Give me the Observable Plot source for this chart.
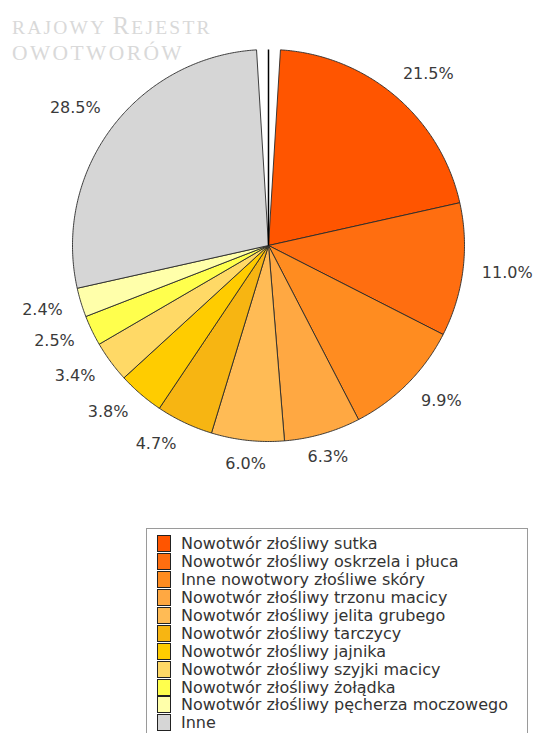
<!DOCTYPE html>
<html>
<head>
<meta charset="utf-8">
<script src="https://cdn.jsdelivr.net/npm/d3@7"></script>
<script src="https://cdn.jsdelivr.net/npm/@observablehq/plot@0.6"></script>
<style>
  html, body { margin: 0; padding: 0; background: #fff; overflow: hidden; }
  #wrap { position: relative; width: 534px; height: 733px; }
  #chart { position: absolute; left: 0; top: 0; }
  .wm { position: absolute; left: 12px; font-family: "Liberation Serif", "DejaVu Serif", serif; color: #d9d9d9; letter-spacing: 2.2px; white-space: nowrap; line-height: 1; }
  .wm .s { font-size: 19.5px; }
  .wm .b { font-size: 24.5px; }
  #legend { position: absolute; left: 146px; top: 528px; width: 382px; height: 230px; border: 1.5px solid #9a9a9a; box-sizing: border-box; padding: 6px 0 0 10px; }
  .item { display: flex; align-items: center; height: 17.9px; font-family: "DejaVu Sans", sans-serif; font-size: 16px; color: #333; white-space: nowrap; }
  .sw { width: 12px; height: 15px; border: 1px solid #222; margin-right: 10px; flex: none; }
</style>
</head>
<body>
<div id="wrap">
  <div class="wm" style="top:14px"><span class="s">RAJOWY </span><span class="b">R</span><span class="s">EJESTR</span></div>
  <div class="wm" style="top:43px"><span class="s" style="font-size:21.5px; letter-spacing:2.4px">OWOTWORÓW</span></div>
  <div id="chart"></div>
  <div id="legend"></div>
</div>
<script>
const categories = [
  "Nowotwór złośliwy sutka",
  "Nowotwór złośliwy oskrzela i płuca",
  "Inne nowotwory złośliwe skóry",
  "Nowotwór złośliwy trzonu macicy",
  "Nowotwór złośliwy jelita grubego",
  "Nowotwór złośliwy tarczycy",
  "Nowotwór złośliwy jajnika",
  "Nowotwór złośliwy szyjki macicy",
  "Nowotwór złośliwy żołądka",
  "Nowotwór złośliwy pęcherza moczowego",
  "Inne"
];
const values = [21.5, 11.0, 9.9, 6.3, 6.0, 4.7, 3.8, 3.4, 2.5, 2.4, 28.5];
const colors = [
  "#ff5500", "#ff6e10", "#ff8c20", "#ffa842", "#ffbb55",
  "#f7b512", "#ffcc00", "#ffd966", "#ffff4d", "#ffffaa", "#d6d6d6"
];

// layout / style constants
const W = 534, H = 500;
const CX = 268, CY = 245, R = 196;
const LRX = 215, LRY = 220;
const gapDeg = 3.5;

const total = d3.sum(values);
function cum0(i) { return d3.sum(values.slice(0, i)); }
let cum = 0;
const slices = values.map((v, i) => {
  const a0 = cum / total * 360;
  cum += v;
  const a1 = cum / total * 360;
  return {i, name: categories[i], value: v, color: colors[i], a0, a1};
});
slices[0].a0 += gapDeg;
slices[slices.length - 1].a1 -= gapDeg;

const rad = d => d * Math.PI / 180;
const pts = [];
for (const s of slices) {
  pts.push({k: s.name, c: s.color, x: 0, y: 0});
  const n = Math.max(2, Math.ceil((s.a1 - s.a0) / 0.5));
  for (let j = 0; j <= n; j++) {
    const a = rad(s.a0 + (s.a1 - s.a0) * j / n);
    pts.push({k: s.name, c: s.color, x: R * Math.sin(a), y: -R * Math.cos(a)});
  }
  pts.push({k: s.name, c: s.color, x: 0, y: 0});
}

const labels = slices.map(s => {
  const mid = rad((cum0(s.i) + values[s.i] / 2) / total * 360);
  const sn = Math.sin(mid);
  return {
    text: values[s.i].toFixed(1) + "%",
    x: LRX * sn, y: -LRY * Math.cos(mid),
    anchor: sn > 0.35 ? "start" : sn < -0.35 ? "end" : "middle"
  };
});

const textOpts = {x: "x", y: "y", text: "text", fontSize: 16, fill: "#3a3a3a", fontFamily: "DejaVu Sans, sans-serif"};

const chart = Plot.plot({
  width: W, height: H,
  margin: 0,
  x: {domain: [-CX, W - CX], range: [0, W], axis: null},
  y: {domain: [-CY, H - CY], range: [0, H], axis: null},
  color: {type: "identity"},
  marks: [
    Plot.line(pts, {x: "x", y: "y", z: "k", fill: "c", stroke: "#2a2a2a", strokeWidth: 0.9, strokeLinejoin: "round"}),
    Plot.link([{x1: 0, y1: 0, x2: 0, y2: -R}], {x1: "x1", y1: "y1", x2: "x2", y2: "y2", stroke: "#000", strokeWidth: 1.5}),
    Plot.text(labels.filter(d => d.anchor === "start"), {...textOpts, textAnchor: "start"}),
    Plot.text(labels.filter(d => d.anchor === "end"), {...textOpts, textAnchor: "end"}),
    Plot.text(labels.filter(d => d.anchor === "middle"), {...textOpts, textAnchor: "middle"})
  ]
});
document.getElementById("chart").appendChild(chart);

const leg = document.getElementById("legend");
categories.forEach((c, i) => {
  const it = document.createElement("div");
  it.className = "item";
  const sw = document.createElement("span");
  sw.className = "sw";
  sw.style.background = colors[i];
  const tx = document.createElement("span");
  tx.textContent = c;
  it.appendChild(sw);
  it.appendChild(tx);
  leg.appendChild(it);
});
</script>
</body>
</html>
